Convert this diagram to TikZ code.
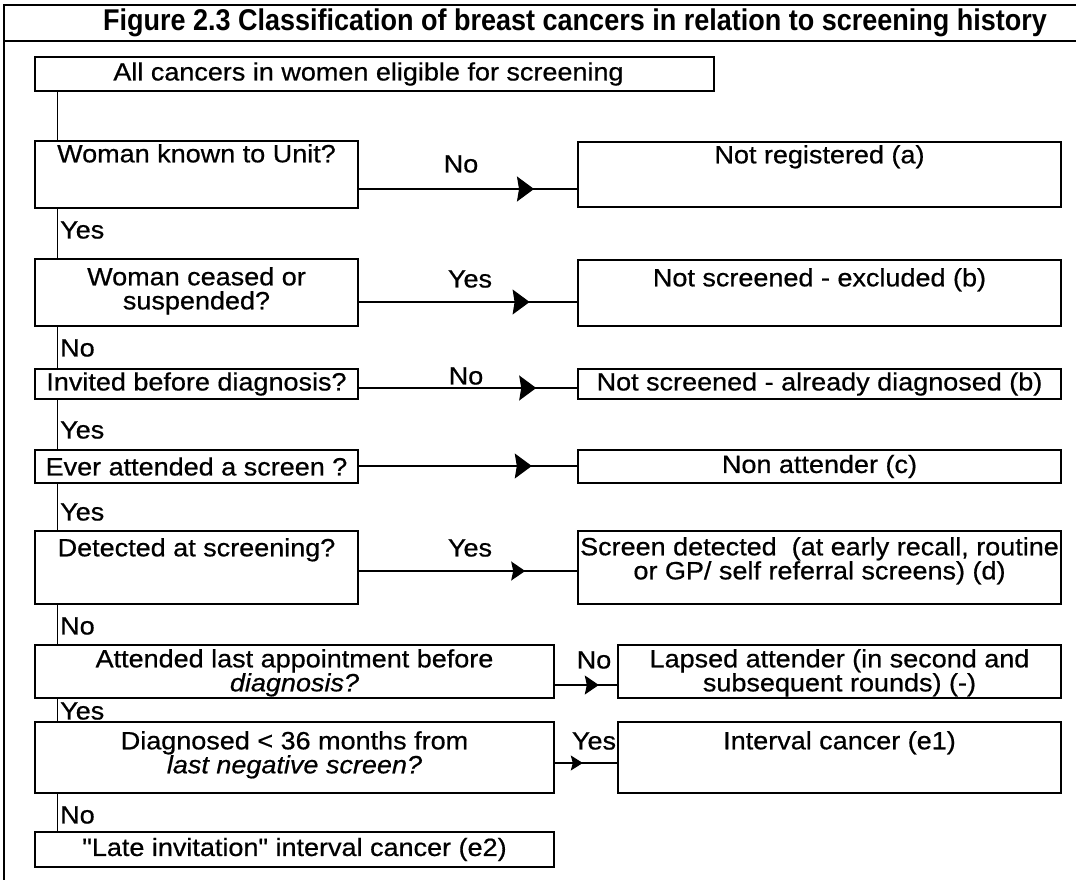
\documentclass[tikz,border=0pt]{standalone}
\usepackage{fontspec}
\setmainfont{Liberation Sans}[FakeStretch=1.08, FakeBold=0.6, Ligatures=TeXOff]
\newfontfamily\titlefont{Liberation Sans}[FakeStretch=0.9, Ligatures=TeXOff]
\usetikzlibrary{arrows.meta,decorations.markings}
\begin{document}
\begin{tikzpicture}[x=1pt,y=-1pt,
  font=\fontsize{25}{24}\selectfont,
  frame/.style={line width=1.4pt},
  box/.style={draw, line width=1.5pt, anchor=north west, inner sep=0pt, outer sep=0pt},
  txt/.style={anchor=north, align=center, inner sep=0pt},
  ctxt/.style={anchor=center, align=center, inner sep=0pt},
  lbl/.style={inner sep=0pt},
  spinelbl/.style={anchor=west, inner sep=0pt},
  link/.style={line width=1pt},
  conn/.style args={#1/#2/#3}{line width=1.2pt, postaction={decorate},
    decoration={markings, mark=at position #1 with
      {\arrow{Stealth[length=#2pt,width=#3pt,inset=2pt]}}}},
]
\fill[white] (0,0) rectangle (1076,880);
\useasboundingbox (0,0) rectangle (1076,880);

% outer frame and title band
\draw[frame] (4,880) -- (4,5) -- (1076,5);
\draw[frame] (4,41) -- (1076,41);
\node[lbl, font=\titlefont\fontsize{30}{31}\selectfont\bfseries] (title) at (575,23)
  {Figure 2.3 Classification of breast cancers in relation to screening history};

% spine position
\coordinate (sp) at (57,0);

% start box
\node[box, minimum width=679pt, minimum height=34pt] (all) at (35,57) {};
\node[ctxt] (allt) at ([xshift=-6pt]all.center) {All cancers in women eligible for screening};

% question boxes (left column)
\node[box, minimum width=323pt, minimum height=67pt] (q1) at (35,141) {};
\node[box, minimum width=323pt, minimum height=67pt] (q2) at (35,259) {};
\node[box, minimum width=323pt, minimum height=30pt] (q3) at (35,369) {};
\node[box, minimum width=323pt, minimum height=33pt] (q4) at (35,450) {};
\node[box, minimum width=323pt, minimum height=73pt] (q5) at (35,531) {};
\node[box, minimum width=519pt, minimum height=53pt] (q6) at (35,645) {};
\node[box, minimum width=519pt, minimum height=71pt] (q7) at (35,722) {};
\node[box, minimum width=519pt, minimum height=35pt] (q8) at (35,832) {};

% outcome boxes (right column)
\node[box, minimum width=483pt, minimum height=65pt] (r1) at (578,142) {};
\node[box, minimum width=483pt, minimum height=66pt] (r2) at (578,260) {};
\node[box, minimum width=483pt, minimum height=30pt] (r3) at (578,369) {};
\node[box, minimum width=483pt, minimum height=33pt] (r4) at (578,450) {};
\node[box, minimum width=483pt, minimum height=73pt] (r5) at (578,531) {};
\node[box, minimum width=443pt, minimum height=53pt] (r6) at (618,645) {};
\node[box, minimum width=443pt, minimum height=71pt] (r7) at (618,722) {};

% box texts
\node[txt] (q1t) at ([yshift=-3pt]q1.north) {Woman known to Unit?};
\node[txt] (q2t) at ([yshift=-8pt]q2.north) {Woman ceased or\\suspended?};
\node[ctxt] (q3t) at (q3.center) {Invited before diagnosis?};
\node[ctxt] (q4t) at (q4.center) {Ever attended a screen ?};
\node[txt] (q5t) at ([yshift=-7pt]q5.north) {Detected at screening?};
\node[txt] (q6t) at ([yshift=-4pt]q6.north) {Attended last appointment before\\\itshape diagnosis?};
\node[txt] (q7t) at ([yshift=-9pt]q7.north) {Diagnosed < 36 months from\\\itshape last negative screen?};
\node[ctxt] (q8t) at (q8.center) {"Late invitation" interval cancer (e2)};

\node[txt] (r1t) at ([yshift=-3pt]r1.north) {Not registered (a)};
\node[txt] (r2t) at ([yshift=-8pt]r2.north) {Not screened - excluded (b)};
\node[ctxt] (r3t) at (r3.center) {Not screened - already diagnosed (b)};
\node[ctxt] (r4t) at (r4.center) {Non attender (c)};
\node[txt] (r5t) at ([yshift=-6pt]r5.north) {Screen detected\ \ (at early recall, routine\\or GP/ self referral screens) (d)};
\node[txt] (r6t) at ([yshift=-4pt]r6.north) {Lapsed attender (in second and\\subsequent rounds) (-)};
\node[txt] (r7t) at ([yshift=-9pt]r7.north) {Interval cancer (e1)};

% vertical spine between the question boxes
\draw[link] (all.south -| sp) -- (q1.north -| sp);
\draw[link] (q1.south -| sp) -- (q2.north -| sp);
\draw[link] (q2.south -| sp) -- (q3.north -| sp);
\draw[link] (q3.south -| sp) -- (q4.north -| sp);
\draw[link] (q4.south -| sp) -- (q5.north -| sp);
\draw[link] (q5.south -| sp) -- (q6.north -| sp);
\draw[link] (q6.south -| sp) -- (q7.north -| sp);
\draw[link] (q7.south -| sp) -- (q8.north -| sp);

% spine labels
\node[spinelbl] (s1) at (60,230) {Yes};
\node[spinelbl] (s2) at (60,348) {No};
\node[spinelbl] (s3) at (60,430) {Yes};
\node[spinelbl] (s4) at (60,512) {Yes};
\node[spinelbl] (s5) at (60,626) {No};
\node[spinelbl] (s6) at (60,711) {Yes};
\node[spinelbl] (s7) at (60,815) {No};

% heights of the horizontal connectors
\coordinate (h1) at (0,189);
\coordinate (h2) at (0,302);
\coordinate (h3) at (0,388);
\coordinate (h4) at (0,466);
\coordinate (h5) at (0,571);
\coordinate (h6) at (0,685);
\coordinate (h7) at (0,763);

\draw[conn=0.80/17/25] (q1.east |- h1) -- (r1.west |- h1);
\draw[conn=0.78/17/25] (q2.east |- h2) -- (r2.west |- h2);
\draw[conn=0.81/17/25] (q3.east |- h3) -- (r3.west |- h3);
\draw[conn=0.79/17/25] (q4.east |- h4) -- (r4.west |- h4);
\draw[conn=0.76/14/19] (q5.east |- h5) -- (r5.west |- h5);
\draw[conn=0.70/14/19] (q6.east |- h6) -- (r6.west |- h6);
\draw[conn=0.45/12/15] (q7.east |- h7) -- (r7.west |- h7);

% connector labels
\node[lbl] (l1) at (461,164) {No};
\node[lbl] (l2) at (470,279) {Yes};
\node[lbl] (l3) at (466,376) {No};
\node[lbl] (l5) at (470,548) {Yes};
\node[lbl] (l6) at (594,660) {No};
\node[lbl] (l7) at (594,741) {Yes};
\end{tikzpicture}
\end{document}
